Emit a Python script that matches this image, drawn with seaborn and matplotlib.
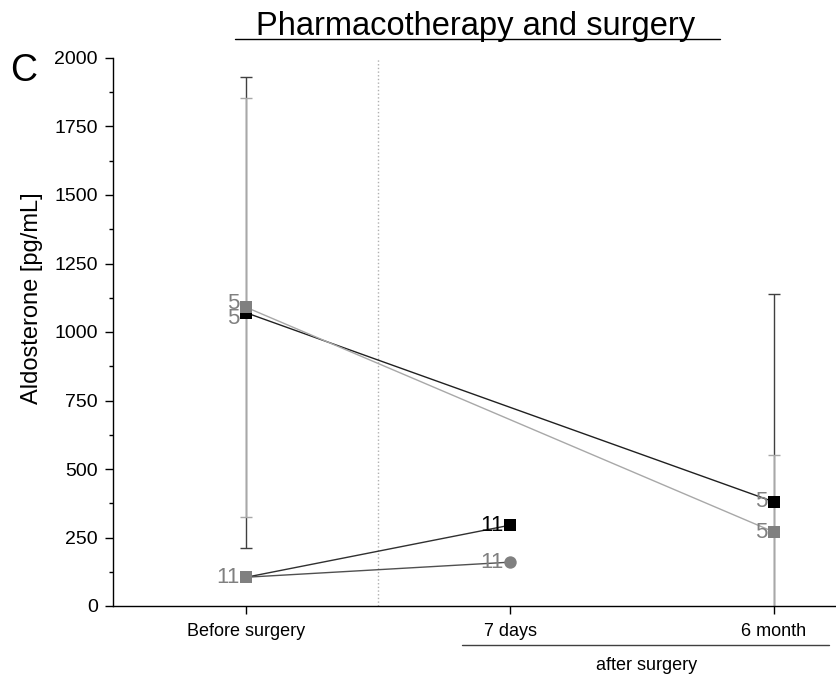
import matplotlib
matplotlib.use("Agg")
import matplotlib.pyplot as plt
from matplotlib.ticker import MultipleLocator
import seaborn as sns
import pandas as pd
import numpy as np

sns.set_theme(style="ticks")
plt.rcParams['font.family'] = ['Liberation Sans', 'DejaVu Sans']
plt.rcParams['text.color'] = 'black'

# Data
timepoints = ["Before surgery", "7 days", "6 month"]
# group with n=5 (6-month follow-up)
black5_x = [0, 2]
black5_y = [1070, 380]
black5_err = [860, 760]
gray5_x = [0, 2]
gray5_y = [1090, 270]
gray5_err = [765, 280]
# group with n=11 (7-day follow-up)
black11_x = [0, 1]
black11_y = [105, 295]
gray11_x = [0, 1]
gray11_y = [105, 160]
n_labels = {"black5": "5", "gray5": "5", "black11": "11", "gray11": "11"}

BLACK = "#000000"
GRAY = "#808080"
LGRAY = "#a8a8a8"

fig = plt.figure(figsize=(8.36, 6.75), dpi=100)
ax = fig.add_axes([113/836, 1-606/675, 1-113/836, (606-58)/675])

# error bars (drawn first)
ax.errorbar(black5_x, black5_y, yerr=black5_err, fmt="none", ecolor="#404040",
            elinewidth=1.0, capsize=4, capthick=1.0, zorder=1)
ax.errorbar(gray5_x, gray5_y, yerr=gray5_err, fmt="none", ecolor=LGRAY,
            elinewidth=1.0, capsize=4, capthick=1.0, zorder=1.5)

df = pd.concat([
    pd.DataFrame({"x": black5_x, "y": black5_y, "s": "black5"}),
    pd.DataFrame({"x": gray5_x, "y": gray5_y, "s": "gray5"}),
    pd.DataFrame({"x": black11_x, "y": black11_y, "s": "black11"}),
    pd.DataFrame({"x": gray11_x, "y": gray11_y, "s": "gray11"}),
])

line_colors = {"black5": "#202020", "gray5": LGRAY, "black11": "#303030", "gray11": "#505050"}
sns.lineplot(data=df, x="x", y="y", hue="s", palette=line_colors, legend=False,
             linewidth=1.0, ax=ax, zorder=2, estimator=None, sort=False)

# markers
sns.scatterplot(x=black5_x, y=black5_y, marker="s", color=BLACK, s=70, linewidth=0, ax=ax, zorder=4)
sns.scatterplot(x=gray5_x, y=gray5_y, marker="s", color=GRAY, s=70, linewidth=0, ax=ax, zorder=5)
sns.scatterplot(x=[black11_x[1]], y=[black11_y[1]], marker="s", color=BLACK, s=70, linewidth=0, ax=ax, zorder=4)
sns.scatterplot(x=[gray11_x[1]], y=[gray11_y[1]], marker="o", color=GRAY, s=80, linewidth=0, ax=ax, zorder=4)
sns.scatterplot(x=[gray11_x[0]], y=[gray11_y[0]], marker="s", color=GRAY, s=70, linewidth=0, ax=ax, zorder=5)

# n labels
kw = dict(ha="right", va="center", fontsize=16, zorder=6)
dx = 0.025
ax.text(black5_x[0] - dx, black5_y[0] - 20, n_labels["black5"], color=GRAY, **kw)
ax.text(gray5_x[0] - dx, gray5_y[0] + 15, n_labels["gray5"], color=GRAY, **kw)
ax.text(black5_x[1] - dx, black5_y[1], n_labels["black5"], color=GRAY, **kw)
ax.text(gray5_x[1] - dx, gray5_y[1], n_labels["gray5"], color=GRAY, **kw)
ax.text(black11_x[0] - dx, black11_y[0], n_labels["gray11"], color=GRAY, **kw)
ax.text(black11_x[1] - dx, black11_y[1], n_labels["black11"], color=BLACK, **kw)
ax.text(gray11_x[1] - dx, gray11_y[1], n_labels["gray11"], color=GRAY, **kw)

# dotted separator
ax.axvline(0.5, color="#b0b0b0", linestyle=":", linewidth=1.0, zorder=0)

ax.set_xlim(-0.505, 2.235)
ax.set_ylim(0, 2000)
ax.set_yticks(np.arange(0, 2001, 250))
ax.yaxis.set_minor_locator(MultipleLocator(125))
ax.set_xticks([0, 1, 2])
ax.set_xticklabels(timepoints, fontsize=13, color="black")
ax.tick_params(axis="y", which="major", labelsize=14, labelcolor="black", direction="out",
               length=6, width=1, color="black", pad=5)
ax.tick_params(axis="y", which="minor", direction="out", length=3, width=1, color="black")
ax.tick_params(axis="x", direction="out", length=6, width=1, color="black", pad=6)
ax.set_xlabel("")
ax.set_ylabel("")
fig.text(32/836, 1-298/675, "Aldosterone [pg/mL]", rotation=90, ha="center", va="center",
         fontsize=17, color="black")
sns.despine(ax=ax)
for sp in ["left", "bottom"]:
    ax.spines[sp].set_color("black")
    ax.spines[sp].set_linewidth(1.0)

# title with underline
fig.text(476/836, 1-35/675, "Pharmacotherapy and surgery", ha="center", va="baseline",
         fontsize=23.5, color="black")
fig.add_artist(plt.Line2D([235/836, 720/836], [1-39/675, 1-39/675], color="black", linewidth=1.0))
fig.text(24/836, 1-71/675, "C", ha="center", va="center", fontsize=27, color="black")

# after surgery bracket
fig.add_artist(plt.Line2D([462/836, 829/836], [1-645/675, 1-645/675], color="#404040", linewidth=1.0))
fig.text(647/836, 1-665/675, "after surgery", ha="center", va="center", fontsize=13, color="black")

fig.savefig("out.png", dpi=100)
